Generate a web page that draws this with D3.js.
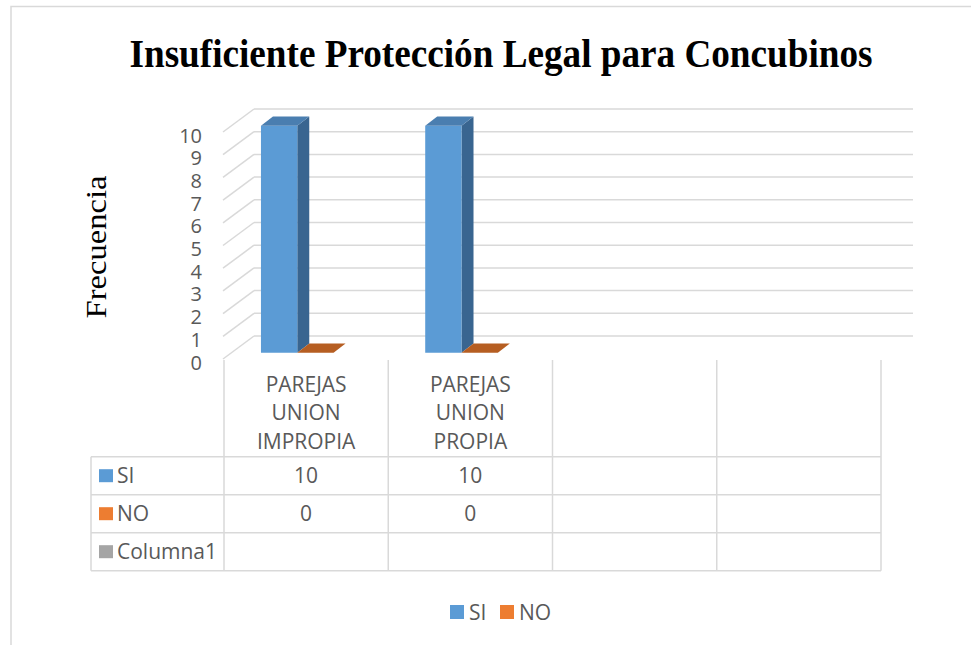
<!DOCTYPE html>
<html>
<head>
<meta charset="utf-8">
<script src="https://cdn.jsdelivr.net/npm/d3@7"></script>
<style>
  html, body { margin: 0; padding: 0; background: #fff; }
  svg { display: block; }
  text { font-family: "Open Sans", sans-serif; fill: #595959; }
</style>
</head>
<body>
<div id="chart"></div>
<script>
// data
const categories = ['PAREJAS UNION IMPROPIA', 'PAREJAS UNION PROPIA', 'vacia1', 'vacia2'];
const categoryLines = [['PAREJAS', 'UNION', 'IMPROPIA'], ['PAREJAS', 'UNION', 'PROPIA'], [], []];
const seriesNames = ['SI', 'NO', 'Columna1'];
const siValues = [10, 10, null, null];
const noValues = [0, 0, null, null];
const columna1Values = [null, null, null, null];
const yTicks = [0, 1, 2, 3, 4, 5, 6, 7, 8, 9, 10];

const seriesColors = { SI: '#5B9BD5', NO: '#ED7D31', Columna1: '#A5A5A5' };
const topColors = { SI: '#4A7EB0', NO: '#B65E22', Columna1: '#8A8A8A' };
const sideColors = { SI: '#396590', NO: '#A4511B', Columna1: '#7A7A7A' };

const width = 971, height = 645;
const depthX = 30, depthY = -23;        // full floor depth, oblique projection
const barFront = 0.274, barBack = 0.674; // bar depth as share of the floor depth
const gridColor = '#d9d9d9';
const labelSize = '21px';

const svg = d3.select('#chart').append('svg')
    .attr('width', width)
    .attr('height', height);

// outer chart border (runs off the right and bottom edge)
svg.append('rect')
    .attr('x', 11).attr('y', 6.5)
    .attr('width', width + 20).attr('height', height + 20)
    .attr('fill', 'none').attr('stroke', gridColor).attr('stroke-width', 1.5);

const x = d3.scaleBand().domain(categories).range([224, 881]).padding(0);
const y = d3.scaleLinear().domain([0, 10]).range([359, 132]);
const bw = x.bandwidth();

// title
svg.append('text')
    .attr('x', 501).attr('y', 67)
    .attr('text-anchor', 'middle')
    .attr('textLength', 743).attr('lengthAdjust', 'spacingAndGlyphs')
    .style('font-family', '"Liberation Serif", "Times New Roman", serif')
    .style('font-weight', 'bold').style('font-size', '41px').style('fill', '#000')
    .text('Insuficiente Protección Legal para Concubinos');

// y axis title
svg.append('text')
    .attr('transform', 'translate(106,247) rotate(-90)')
    .attr('text-anchor', 'middle')
    .attr('textLength', 143).attr('lengthAdjust', 'spacingAndGlyphs')
    .style('font-family', '"Liberation Serif", "Times New Roman", serif')
    .style('font-size', '30px').style('fill', '#000')
    .text('Frecuencia');

// back wall gridlines and side wall diagonals
const grid = svg.append('g').attr('stroke', gridColor).attr('stroke-width', 1.5).attr('fill', 'none');
grid.selectAll('line.back').data(yTicks).join('line')
    .attr('class', 'back')
    .attr('x1', x.range()[0] + depthX).attr('x2', x.range()[1] + depthX + 2)
    .attr('y1', d => y(d) + depthY).attr('y2', d => y(d) + depthY);
grid.selectAll('line.side').data(yTicks).join('line')
    .attr('class', 'side')
    .attr('x1', x.range()[0] - 1).attr('y1', d => y(d))
    .attr('x2', x.range()[0] + depthX).attr('y2', d => y(d) + depthY);

// y tick labels
svg.append('g').selectAll('text').data(yTicks).join('text')
    .attr('x', 202).attr('y', d => y(d) + 10.5)
    .attr('text-anchor', 'end')
    .style('font-size', '20px')
    .text(d => d);

// 3d bars
const series = [
    { name: 'SI', values: siValues },
    { name: 'NO', values: noValues }
];
const barW = bw * 0.221;
const barOff = bw * 0.175;
const pt = (px, py, f) => [px + f * depthX, py + f * depthY];
const poly = pts => 'M' + pts.map(p => p.join(',')).join('L') + 'Z';

series.forEach((s, si) => {
    const g = svg.append('g');
    const bars = categories.map((c, ci) => ({ c, v: s.values[ci] })).filter(d => d.v !== null);
    bars.forEach(d => {
        const x0 = x(d.c) + barOff + si * barW;
        const x1 = x0 + barW;
        const y0 = y(0), y1 = y(d.v);
        // side face
        g.append('path')
            .attr('d', poly([pt(x1, y0, barFront), pt(x1, y0, barBack), pt(x1, y1, barBack), pt(x1, y1, barFront)]))
            .attr('fill', sideColors[s.name]);
        // front face
        g.append('path')
            .attr('d', poly([pt(x0, y0, barFront), pt(x1, y0, barFront), pt(x1, y1, barFront), pt(x0, y1, barFront)]))
            .attr('fill', seriesColors[s.name]);
        // top face
        g.append('path')
            .attr('d', poly([pt(x0, y1, barFront), pt(x1, y1, barFront), pt(x1, y1, barBack), pt(x0, y1, barBack)]))
            .attr('fill', topColors[s.name]);
    });
});

// category labels
svg.append('g').selectAll('text').data(categories).join('text')
    .attr('text-anchor', 'middle')
    .style('font-size', labelSize)
    .each(function (c, i) {
        d3.select(this).selectAll('tspan').data(categoryLines[i]).join('tspan')
            .attr('x', x(c) + bw / 2)
            .attr('y', (d, j) => 391.5 + j * 28.6)
            .text(d => d);
    });

// data table
const tableLeft = 91, tableTop = 456.7, rowH = 38;
const tableRight = x.range()[1];
const rows = [
    { name: 'SI', values: siValues },
    { name: 'NO', values: noValues },
    { name: 'Columna1', values: columna1Values }
];
const tbl = svg.append('g');
const tl = tbl.append('g').attr('stroke', gridColor).attr('stroke-width', 1.5);
// category dividers (from floor down through the table)
tl.selectAll('line.div').data(categories.map(c => x(c)).concat([tableRight])).join('line')
    .attr('class', 'div')
    .attr('x1', d => d).attr('x2', d => d)
    .attr('y1', 360).attr('y2', tableTop + rows.length * rowH);
tl.selectAll('line.row').data(d3.range(rows.length + 1)).join('line')
    .attr('class', 'row')
    .attr('x1', tableLeft).attr('x2', tableRight)
    .attr('y1', i => tableTop + i * rowH).attr('y2', i => tableTop + i * rowH);
tl.append('line')
    .attr('x1', tableLeft).attr('x2', tableLeft)
    .attr('y1', tableTop).attr('y2', tableTop + rows.length * rowH);

rows.forEach((r, ri) => {
    const cy = tableTop + ri * rowH + rowH / 2;
    tbl.append('rect')
        .attr('x', 99).attr('y', cy - 6.5).attr('width', 14).attr('height', 13)
        .attr('fill', seriesColors[r.name]);
    tbl.append('text')
        .attr('x', 117).attr('y', cy + 7.4)
        .style('font-size', labelSize)
        .text(r.name);
    tbl.selectAll(null).data(r.values.map((v, ci) => ({ v, c: categories[ci] })).filter(d => d.v !== null))
        .join('text')
        .attr('x', d => x(d.c) + bw / 2).attr('y', cy + 7.4)
        .attr('text-anchor', 'middle')
        .style('font-size', labelSize)
        .text(d => d.v);
});

// bottom legend
const legendItems = [{ name: 'SI', x: 450 }, { name: 'NO', x: 500 }];
const lg = svg.append('g');
lg.selectAll('rect').data(legendItems).join('rect')
    .attr('x', d => d.x).attr('y', 605).attr('width', 14).attr('height', 14)
    .attr('fill', d => seriesColors[d.name]);
lg.selectAll('text').data(legendItems).join('text')
    .attr('x', d => d.x + 19).attr('y', 619.5)
    .style('font-size', labelSize)
    .text(d => d.name);
</script>
</body>
</html>
